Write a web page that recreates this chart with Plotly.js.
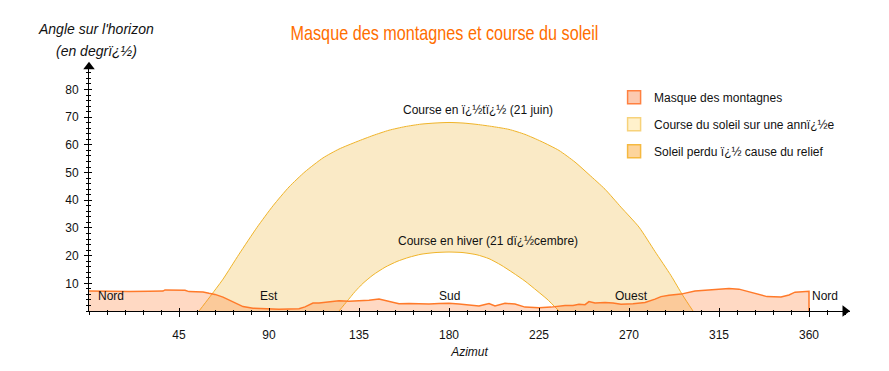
<!DOCTYPE html>
<html><head><meta charset="utf-8">
<script src="https://cdn.plot.ly/plotly-3.0.1.min.js"></script>
<style>html,body{margin:0;padding:0;background:#fff}</style>
</head><body><div id="chart" style="width:889px;height:371px"></div>
<script>
// Mountain mask (azimuth in degrees, angle above horizon in degrees)
const maskAz  = [0,5,10,20,30,37,38,45,48,50,55,57,60,63,67,72,77,82,90,95,100,105,108,112,115,119,122,125,130,135,140,145,150,155,160,170,175,180,185,190,195,200,203,208,213,218,225,231,238,242,245,248,250,253,258,262,266,272,278,283,286,290,296,303,310,320,325,331,336,339,346,350,353,360,360];
const maskAlt = [7.2,7.1,7.0,7.0,7.1,7.2,7.6,7.6,7.5,7.0,7.0,6.9,6.4,6.0,5.0,3.3,1.6,1.0,0.6,0.6,0.7,0.8,1.5,2.9,2.9,3.2,3.5,3.7,3.5,3.6,3.9,4.3,3.5,2.6,2.7,2.5,2.7,2.8,2.5,2.2,1.8,2.7,1.8,2.8,2.5,1.4,1.2,1.4,2.0,2.0,2.4,2.3,3.4,2.9,3.1,2.9,2.4,2.6,3.1,4.3,5.2,5.7,6.1,7.2,7.6,8.1,7.9,6.8,6.0,5.2,5.1,5.8,6.8,7.1,0];
// Sun path on 21 June
const summerAz  = [55,60,67,75,84,92,100,108,117,125,134,142,150,158,166,173,180,187,194,202,210,218,226,235,243,250,258,266,275,283,291,297,302];
const summerAlt = [0,4.7,11.5,20.5,30.2,38,44.8,50.3,55.3,58.5,61.2,63.4,65.3,66.6,67.5,67.9,68.1,67.9,67.4,66.6,65.6,63.8,61.3,58,53.8,49.3,44,37.5,30.3,21.5,12.8,5.5,0];
// Sun path on 21 December
const winterAz  = [125,129,133,137,142,148,154,160,166,173,180,187,194,200,206,212,218,224,229,235];
const winterAlt = [0,3.5,7,10,13,15.8,17.9,19.4,20.5,21.1,21.3,21.1,20.3,18.9,16.6,13.8,10.8,7.3,4.3,0];
// Axis ticks
const xTickVals = [45,90,135,180,225,270,315,360];
const yTickVals = [10,20,30,40,50,60,70,80];
// Cardinal labels
const compassAz = [11,90,180,271,368];
const compassLabels = ['Nord','Est','Sud','Ouest','Nord'];
const compassAlt = 5.4;
// Legend entries
const legendNames = ['Masque des montagnes','Course du soleil sur une annï¿½e','Soleil perdu ï¿½ cause du relief'];
const legendFills = ['#FCCAB0','#FFF1CC','#FDD49C'];
const legendLines = ['#FF8040','#F7D27A','#F5B940'];

const sunLine = '#F0B429';
const traces = [
  {x: summerAz, y: summerAlt, type:'scatter', mode:'lines', fill:'tozeroy', fillcolor:'#FAEAC6',
   line:{color:sunLine, width:1, shape:'spline', smoothing:0.6}, showlegend:false, hoverinfo:'skip'},
  {x: winterAz, y: winterAlt, type:'scatter', mode:'lines', fill:'tozeroy', fillcolor:'#FFFFFF',
   line:{color:sunLine, width:1, shape:'spline', smoothing:0.6}, showlegend:false, hoverinfo:'skip'},
  {x: maskAz, y: maskAlt, type:'scatter', mode:'lines', fill:'tozeroy', fillcolor:'rgba(255,120,40,0.28)',
   line:{color:'#FF7A2A', width:1.5}, showlegend:false, hoverinfo:'skip'},
  {x:[378], y:[0], type:'scatter', mode:'markers', marker:{symbol:'triangle-right', size:10, color:'#000'},
   cliponaxis:false, showlegend:false, hoverinfo:'skip'},
  {x:[0], y:[88.2], type:'scatter', mode:'markers', marker:{symbol:'triangle-up', size:10, color:'#000'},
   cliponaxis:false, showlegend:false, hoverinfo:'skip'},
  {x:[null], y:[null], xaxis:'x2', yaxis:'y2', type:'scatter', mode:'markers', showlegend:false, hoverinfo:'skip'}
];
legendNames.forEach((n,i)=>{
  traces.push({x:[null], y:[null], type:'scatter', mode:'markers', name:n, legendgroup:'g'+i,
    marker:{symbol:'square', size:13, color:legendFills[i], line:{color:legendLines[i], width:1.5}}});
});

const xr = [0,380.5], yr = [0,88.5];
const tf = {family:'Liberation Sans, Arial, sans-serif', size:12, color:'#111'};
const layout = {
  width:889, height:371,
  margin:{l:89, r:39, t:66, b:60},
  paper_bgcolor:'#fff', plot_bgcolor:'#fff',
  font: tf,
  title:{text:'Masque des montagnes et course du soleil', xref:'container', x:0.5, y:0.913, yanchor:'middle',
         font:{family:'Liberation Sans, Arial, sans-serif', size:21, color:'#FF6E00'}},
  xaxis:{range:xr, showline:true, linecolor:'#000', linewidth:1, showgrid:false, zeroline:false,
         tickmode:'array', tickvals:xTickVals, ticks:'outside', ticklen:5, tickcolor:'#000', tickwidth:1,
         ticklabelstandoff:8, tickfont:tf,
         minor:{tick0:0, dtick:9, ticks:'outside', ticklen:3, tickcolor:'#000', showgrid:false},
         title:{text:'Azimut', standoff:6, font:{family:'Liberation Sans, Arial, sans-serif', size:12, style:'italic', color:'#111'}}},
  yaxis:{range:yr, showline:true, linecolor:'#000', linewidth:1, showgrid:false, zeroline:false,
         tickmode:'array', tickvals:yTickVals, ticks:'outside', ticklen:4, tickcolor:'#000', tickwidth:1,
         ticklabelstandoff:3, tickfont:tf,
         minor:{tick0:0, dtick:2, ticks:'outside', ticklen:2, tickcolor:'#000', showgrid:false}},
  xaxis2:{range:xr, overlaying:'x', anchor:'y2', showline:false, showgrid:false, zeroline:false,
         tickmode:'array', tickvals:xTickVals, ticks:'inside', ticklen:3, tickcolor:'#000', showticklabels:false,
         minor:{tick0:0, dtick:9, ticks:'inside', ticklen:1, tickcolor:'#000', showgrid:false}},
  yaxis2:{range:yr, overlaying:'y', anchor:'x2', side:'left', showline:false, showgrid:false, zeroline:false,
         tickmode:'array', tickvals:yTickVals, ticks:'inside', ticklen:3, tickcolor:'#000', showticklabels:false,
         minor:{tick0:0, dtick:2, ticks:'inside', ticklen:2, tickcolor:'#000', showgrid:false}},
  legend:{x:0.69, y:0.932, xanchor:'left', yanchor:'top', traceorder:'grouped', tracegroupgap:8,
          font:{family:'Liberation Sans, Arial, sans-serif', size:12, color:'#111'}, bgcolor:'rgba(0,0,0,0)'},
  showlegend:true,
  annotations: [
    {xref:'paper', yref:'paper', x:0.0092, y:1.151, text:"Angle sur l'horizon", showarrow:false, xanchor:'center', yanchor:'middle',
     font:{family:'Liberation Sans, Arial, sans-serif', size:14, style:'italic', color:'#111'}},
    {xref:'paper', yref:'paper', x:0.0092, y:1.061, text:'(en degrï¿½)', showarrow:false, xanchor:'center', yanchor:'middle',
     font:{family:'Liberation Sans, Arial, sans-serif', size:14, style:'italic', color:'#111'}},
    {xref:'x', yref:'y', x:194.5, y:72.6, text:'Course en ï¿½tï¿½ (21 juin)', showarrow:false, font:tf},
    {xref:'x', yref:'y', x:199.5, y:25.4, text:'Course en hiver (21 dï¿½cembre)', showarrow:false, font:tf}
  ].concat(compassAz.map((a,i)=>({xref:'x', yref:'y', x:a, y:compassAlt, text:compassLabels[i], showarrow:false, font:tf})))
};
Plotly.newPlot('chart', traces, layout, {displayModeBar:false, staticPlot:true}).then(gd=>{
  // condensed look for the title, as in the reference
  const t = gd.querySelector('text.gtitle');
  if (t) {
    const w = t.getBBox().width;
    const s = 308 / w;
    const cx = parseFloat(t.getAttribute('x')) || 444.5;
    const prev = t.getAttribute('transform') || '';
    t.setAttribute('transform', prev + ` translate(${cx},0) scale(${s},1) translate(${-cx},0)`);
  }
});
</script></body></html>
